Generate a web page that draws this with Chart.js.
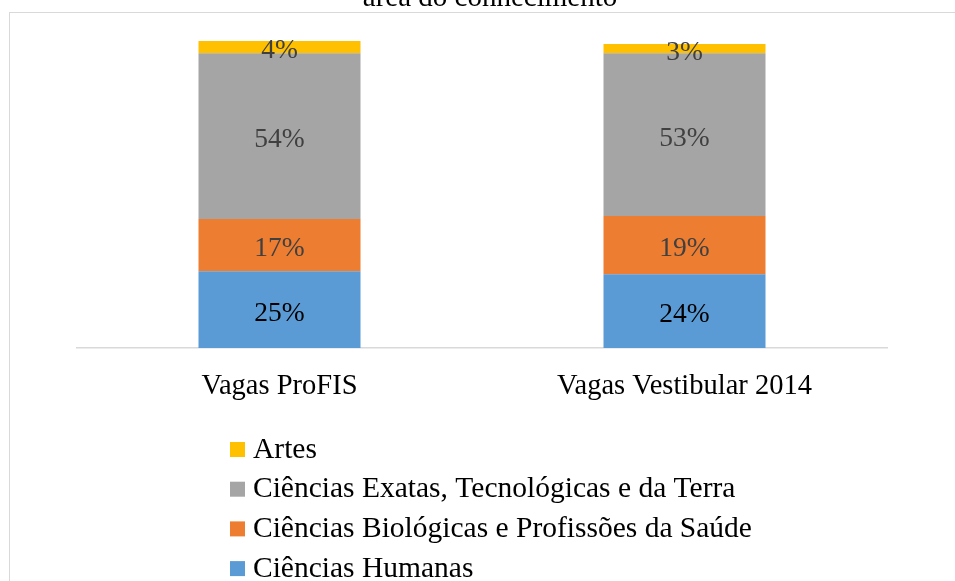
<!DOCTYPE html>
<html>
<head>
<meta charset="utf-8">
<style>
  html, body { margin: 0; padding: 0; background: #fff; }
  #wrap { position: relative; width: 955px; height: 581px; }
</style>
<script src="https://cdn.jsdelivr.net/npm/chart.js@4.4.1/dist/chart.umd.min.js"></script>
</head>
<body>
<div id="wrap"><canvas id="chart" width="955" height="581"></canvas></div>
<script>
// categorias e series (percentuais)
const categories = ['Vagas ProFIS', 'Vagas Vestibular 2014'];
const seriesNames = [
    'Ciências Humanas',
    'Ciências Biológicas e Profissões da Saúde',
    'Ciências Exatas, Tecnológicas e da Terra',
    'Artes'
];
const humanas = [25, 24];
const biologicas = [17, 19];
const exatas = [54, 53];
const artes = [4, 3];
const titleLine = 'área do conhecimento';

const seriesColors = ['#5B9BD5', '#ED7D31', '#A5A5A5', '#FFC000'];
const labelColors = ['#000000', '#404040', '#404040', '#404040'];
const FONT = '"Liberation Serif", "Times New Roman", serif';

// ========== moldura, titulo, rotulos e legenda ==========
const decorPlugin = {
    id: 'decor',
    beforeDraw(chart) {
        const ctx = chart.ctx;
        ctx.save();
        ctx.strokeStyle = '#d9d9d9';
        ctx.lineWidth = 1;
        ctx.strokeRect(9.5, 12.5, 1000, 1000);
        ctx.fillStyle = '#000';
        ctx.font = '29px ' + FONT;
        ctx.textAlign = 'center';
        ctx.textBaseline = 'alphabetic';
        ctx.fillText(titleLine, 490, 6);
        ctx.restore();
    },
    afterDatasetsDraw(chart) {
        const ctx = chart.ctx;
        ctx.save();
        ctx.font = '27.5px ' + FONT;
        ctx.textAlign = 'center';
        ctx.textBaseline = 'middle';
        chart.data.datasets.forEach((ds, i) => {
            const meta = chart.getDatasetMeta(i);
            ctx.fillStyle = labelColors[i];
            meta.data.forEach((bar, j) => {
                const p = bar.getCenterPoint();
                ctx.fillText(ds.data[j] + '%', p.x, p.y + 4);
            });
        });

        // legenda vertical, ordem invertida
        ctx.font = '29.5px ' + FONT;
        ctx.textAlign = 'left';
        const order = [3, 2, 1, 0];
        order.forEach((idx, row) => {
            const y = 449 + row * 39.7;
            ctx.fillStyle = seriesColors[idx];
            ctx.fillRect(230, y - 7, 15, 15);
            ctx.fillStyle = '#000';
            ctx.fillText(seriesNames[idx], 253, y + 1);
        });
        ctx.restore();
    }
};

const values = [humanas, biologicas, exatas, artes];

new Chart(document.getElementById('chart'), {
    type: 'bar',
    data: {
        labels: categories,
        datasets: values.map((v, i) => ({
            label: seriesNames[i],
            data: v,
            backgroundColor: seriesColors[i],
            borderWidth: 0,
            categoryPercentage: 1,
            barPercentage: 0.4
        }))
    },
    options: {
        responsive: false,
        animation: false,
        layout: { padding: { left: 77, right: 68, top: 41, bottom: 0 } },
        scales: {
            x: {
                stacked: true,
                grid: { display: false, drawTicks: false },
                border: { display: true, color: '#d9d9d9', width: 1.5 },
                ticks: { color: '#000', font: { family: FONT, size: 28.5 }, padding: 21 },
                afterFit(scale) { scale.height = 233; }
            },
            y: {
                stacked: true,
                display: false,
                min: 0,
                max: 100
            }
        },
        plugins: {
            legend: { display: false },
            tooltip: { enabled: false }
        }
    },
    plugins: [decorPlugin]
});
</script>
</body>
</html>
